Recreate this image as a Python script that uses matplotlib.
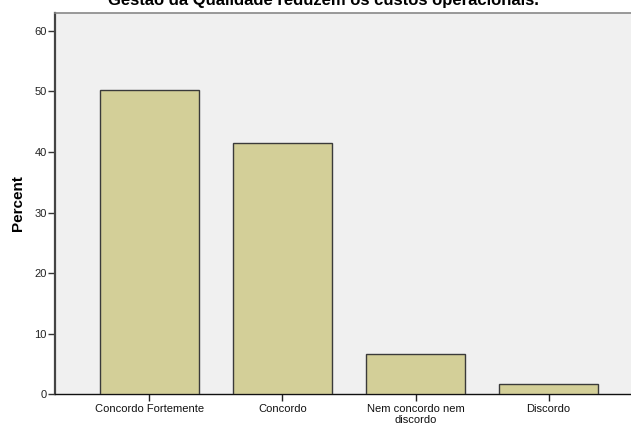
import matplotlib
matplotlib.use("Agg")
import matplotlib.pyplot as plt

categories = ["Concordo Fortemente", "Concordo", "Nem concordo nem\ndiscordo", "Discordo"]
percent = [50.3, 41.4, 6.7, 1.7]
yticks = [0, 10, 20, 30, 40, 50, 60]

plt.rcParams['font.family'] = ['Liberation Sans', 'DejaVu Sans']

fig = plt.figure(figsize=(6.31, 4.23), dpi=100)
fig.patch.set_facecolor('white')
ax = fig.add_axes([0.0872, 0.0674, 0.9128, 0.903])
ax.set_facecolor('#F0F0F0')

x = list(range(len(categories)))
ax.bar(x, percent, width=0.75, color='#D3CF98', edgecolor='#3a3a3a', linewidth=1.0, zorder=3)

ax.set_xlim(-0.71, 3.62)
ax.set_ylim(0, 63.0)
ax.set_yticks(yticks)
ax.set_yticklabels([str(t) for t in yticks], fontsize=8, color='#222222')
ax.set_xticks(x)
ax.set_xticklabels(categories, fontsize=8, color='#111111', linespacing=1.05)
ax.tick_params(axis='y', direction='out', length=5, width=1.0, color='#333333', pad=1)
ax.tick_params(axis='x', direction='out', length=5, width=1.0, color='#222222', pad=2)

ax.spines['left'].set_color('#444444')
ax.spines['left'].set_linewidth(1.6)
ax.spines['top'].set_color('#888888')
ax.spines['top'].set_linewidth(1.2)
ax.spines['bottom'].set_color('#111111')
ax.spines['bottom'].set_linewidth(1.0)
ax.spines['right'].set_visible(False)

ax.set_ylabel("Percent", fontsize=11, fontweight='bold', labelpad=7)

fig.text(0.5127, 0.987, "Gestão da Qualidade reduzem os custos operacionais.",
         ha='center', va='baseline', fontsize=12, fontweight='bold')

fig.savefig("out.png", dpi=100)
